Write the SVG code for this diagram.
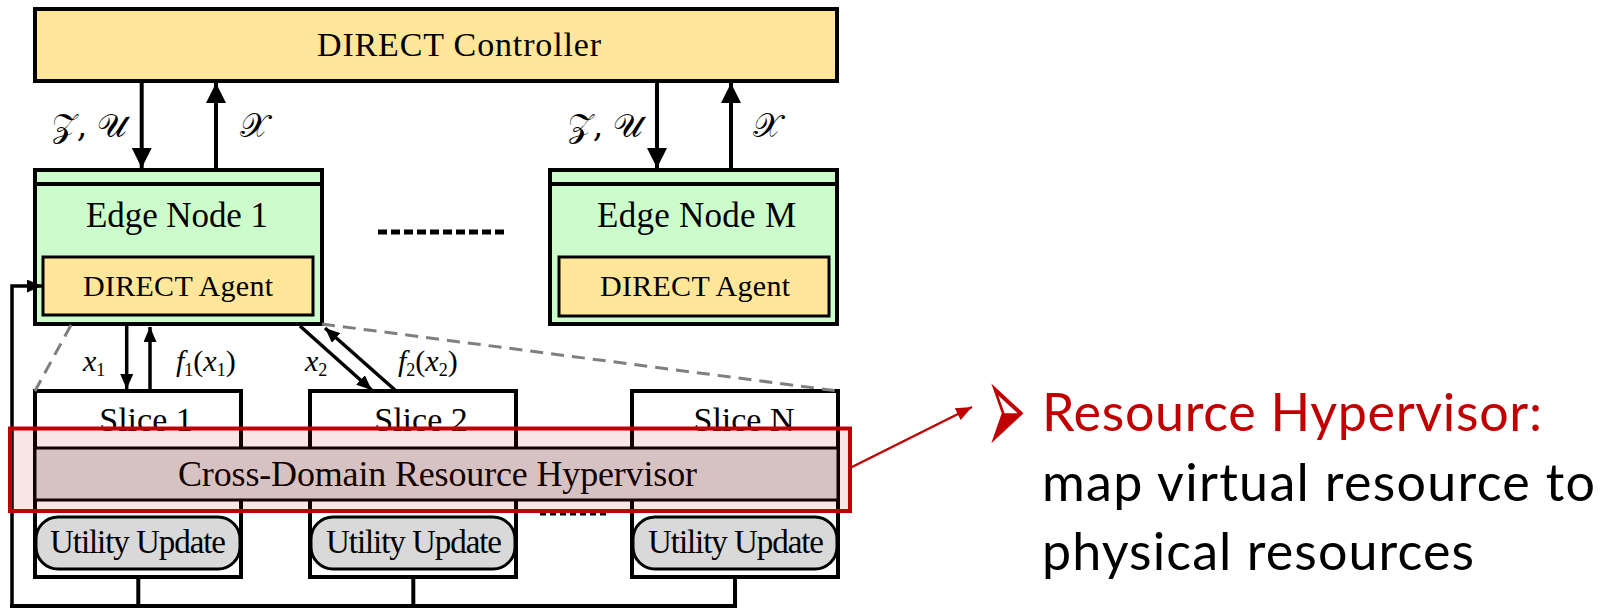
<svg xmlns="http://www.w3.org/2000/svg" width="1614" height="608" viewBox="0 0 1614 608">
<defs>
<marker id="ah" viewBox="0 0 20 20" refX="20" refY="10" markerWidth="20" markerHeight="20" markerUnits="userSpaceOnUse" orient="auto"><path d="M0,0 L20,10 L0,20 Z" fill="#000"/></marker>
<marker id="ahs" viewBox="0 0 15 13" refX="15" refY="6.5" markerWidth="15" markerHeight="13" markerUnits="userSpaceOnUse" orient="auto"><path d="M0,0 L15,6.5 L0,13 Z" fill="#000"/></marker>
<marker id="ahr" viewBox="0 0 16 13" refX="16" refY="6.5" markerWidth="16" markerHeight="13" markerUnits="userSpaceOnUse" orient="auto"><path d="M0,0 L16,6.5 L0,13 Z" fill="#c00000"/></marker>
</defs>
<style>
.t{font-family:"Liberation Serif","Times New Roman",serif;fill:#000}
.yel{fill:#ffe699;stroke:#000;stroke-width:4}
.grn{fill:#ccfccc;stroke:#000;stroke-width:4}
.agent{fill:#ffe699;stroke:#000;stroke-width:3}
.slice{fill:#fff;stroke:#000;stroke-width:4}
.util{fill:#d9d9d9;stroke:#000;stroke-width:3}
.ln{stroke:#000;fill:none}
.a4{stroke-width:4;marker-end:url(#ah)}
.a3{stroke-width:3.5;marker-end:url(#ahs)}
.dash{stroke:#7f7f7f;stroke-width:3;stroke-dasharray:13 8;fill:none}
.math{font-family:"DejaVu Serif","Liberation Serif",serif;font-size:33px}
.side{font-family:Lato,"Open Sans",sans-serif;font-size:52px}
</style>

<g id="controller">
<rect class="yel" x="35" y="9" width="802" height="72"/>
<text class="t" x="317" y="56" font-size="34" textLength="284">DIRECT Controller</text>
</g>

<g id="edge-node-1">
<rect class="grn" x="35" y="170" width="287" height="154"/>
<line class="ln" x1="35" y1="184" x2="322" y2="184" stroke-width="4"/>
<text class="t" x="86" y="227" font-size="35" textLength="182">Edge Node 1</text>
<g id="agent-1">
<rect class="agent" x="43" y="257" width="270" height="58"/>
<text class="t" x="83" y="296" font-size="30" textLength="190">DIRECT Agent</text>
</g>
</g>

<g id="edge-node-m">
<rect class="grn" x="550" y="170" width="287" height="154"/>
<line class="ln" x1="550" y1="184" x2="837" y2="184" stroke-width="4"/>
<text class="t" x="597" y="227" font-size="35" textLength="199">Edge Node M</text>
<g id="agent-m">
<rect class="agent" x="559" y="257" width="270" height="59"/>
<text class="t" x="600" y="296" font-size="30" textLength="190">DIRECT Agent</text>
</g>
</g>

<g id="ellipsis">
<line x1="378" y1="232" x2="507" y2="232" stroke="#000" stroke-width="5" stroke-dasharray="9 4"/>
<line x1="540" y1="513" x2="607" y2="513" stroke="#000" stroke-width="5" stroke-dasharray="6 4"/>
</g>

<g id="slice-1">
<rect class="slice" x="35" y="391" width="206" height="186"/>
<text class="t" x="146" y="431" font-size="34" text-anchor="middle">Slice 1</text>
<rect class="util" x="36" y="517" width="204" height="52" rx="22"/>
<text class="t" x="138" y="553" font-size="33" text-anchor="middle" textLength="176">Utility Update</text>
</g>
<g id="slice-2">
<rect class="slice" x="310" y="391" width="206" height="186"/>
<text class="t" x="421" y="431" font-size="34" text-anchor="middle">Slice 2</text>
<rect class="util" x="311" y="517" width="204" height="52" rx="22"/>
<text class="t" x="414" y="553" font-size="33" text-anchor="middle" textLength="176">Utility Update</text>
</g>
<g id="slice-n">
<rect class="slice" x="632" y="391" width="206" height="186"/>
<text class="t" x="744" y="431" font-size="34" text-anchor="middle">Slice N</text>
<rect class="util" x="633" y="517" width="204" height="52" rx="22"/>
<text class="t" x="736" y="553" font-size="33" text-anchor="middle" textLength="176">Utility Update</text>
</g>

<g id="hypervisor">
<rect x="35" y="448" width="803" height="52" fill="#d9d9d9" stroke="#000" stroke-width="3"/>
<text class="t" x="178" y="486" font-size="36" textLength="519">Cross-Domain Resource Hypervisor</text>
</g>

<g id="connectors">
<line class="ln a4" x1="141.7" y1="81" x2="141.7" y2="168"/>
<line class="ln a4" x1="216" y1="168" x2="216" y2="83"/>
<line class="ln a4" x1="657" y1="81" x2="657" y2="168"/>
<line class="ln a4" x1="731" y1="168" x2="731" y2="83"/>
<line class="ln a3" x1="126.7" y1="326" x2="126.7" y2="389"/>
<line class="ln a3" x1="150" y1="389" x2="150" y2="327"/>
<line class="ln a3" x1="300" y1="326" x2="371.7" y2="390"/>
<line class="ln a3" x1="395" y1="390" x2="325" y2="328"/>
<path class="dash" d="M71,325 L35,391"/>
<path class="dash" d="M322,324 L838,391"/>
<path class="ln" stroke-width="4" d="M138.3,577 V606 M413.3,577 V606 M735,577 V606 M10,606 H737"/>
<path class="ln a3" d="M12,606 V286 H42"/>
</g>

<g id="labels">
<text class="math" x="52" y="137" textLength="75">𝒵, 𝒰</text>
<text class="math" x="240" y="137" textLength="28">𝒳</text>
<text class="math" x="568" y="137" textLength="75">𝒵, 𝒰</text>
<text class="math" x="753" y="137" textLength="28">𝒳</text>
<text class="t" x="83" y="371" font-size="30"><tspan font-style="italic">x</tspan><tspan font-size="18" dy="5">1</tspan></text>
<text class="t" x="176" y="371" font-size="30"><tspan font-style="italic">f</tspan><tspan font-size="18" dy="5">1</tspan><tspan dy="-5">(</tspan><tspan font-style="italic">x</tspan><tspan font-size="18" dy="5">1</tspan><tspan dy="-5">)</tspan></text>
<text class="t" x="305" y="371" font-size="30"><tspan font-style="italic">x</tspan><tspan font-size="18" dy="5">2</tspan></text>
<text class="t" x="398" y="371" font-size="30"><tspan font-style="italic">f</tspan><tspan font-size="18" dy="5">2</tspan><tspan dy="-5">(</tspan><tspan font-style="italic">x</tspan><tspan font-size="18" dy="5">2</tspan><tspan dy="-5">)</tspan></text>
</g>

<g id="highlight">
<rect x="10" y="428.5" width="840" height="82.5" fill="#c00000" fill-opacity="0.1" stroke="#c00000" stroke-width="4"/>
<line x1="850" y1="468" x2="972" y2="407" stroke="#c00000" stroke-width="2.5" marker-end="url(#ahr)"/>
</g>

<g id="callout">
<text transform="translate(986,410) scale(0.7,2)" x="0" y="23" font-family="DejaVu Sans" font-size="68" fill="#c00000">➢</text>
<text class="side" x="1042" y="431" fill="#c00000" textLength="500">Resource Hypervisor:</text>
<text class="side" x="1042" y="501" fill="#000" textLength="553">map virtual resource to</text>
<text class="side" x="1042" y="570" fill="#000" textLength="432">physical resources</text>
</g>
</svg>
